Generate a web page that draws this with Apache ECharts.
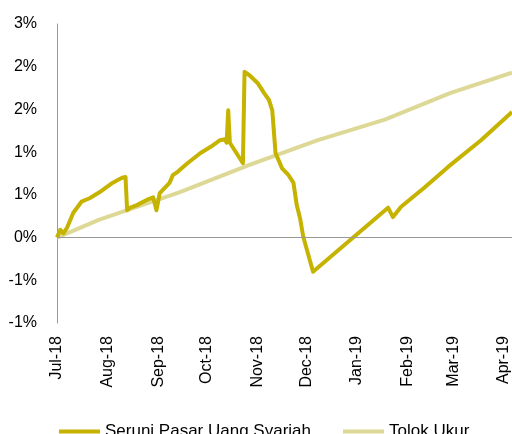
<!DOCTYPE html>
<html>
<head>
<meta charset="utf-8">
<script src="https://cdn.jsdelivr.net/npm/echarts@6/dist/echarts.min.js"></script>
<style>
  html, body { margin: 0; padding: 0; background: #fff; }
  #chart { width: 512px; height: 434px; }
</style>
</head>
<body>
<div id="chart"></div>
<script>
// nama seri
var seriesNames = ['Seruni Pasar Uang Syariah', 'Tolok Ukur'];

// Seruni Pasar Uang Syariah (tanggal, imbal hasil %)
var seruniDates = [
  '2018-07-01', '2018-07-03', '2018-07-05', '2018-07-07', '2018-07-11', '2018-07-16',
  '2018-07-21', '2018-07-27', '2018-08-04', '2018-08-07', '2018-08-10', '2018-08-12',
  '2018-08-13', '2018-08-15', '2018-08-19', '2018-08-25', '2018-08-29', '2018-08-31',
  '2018-09-02', '2018-09-08', '2018-09-10', '2018-09-13', '2018-09-19', '2018-09-27',
  '2018-10-03', '2018-10-09', '2018-10-12', '2018-10-13', '2018-10-14', '2018-10-15',
  '2018-10-23', '2018-10-24', '2018-10-27', '2018-11-01', '2018-11-05', '2018-11-08',
  '2018-11-10', '2018-11-12', '2018-11-16', '2018-11-20', '2018-11-23', '2018-11-25',
  '2018-11-27', '2018-11-29', '2018-12-05', '2019-01-20', '2019-01-23', '2019-01-28',
  '2019-02-11', '2019-02-26', '2019-03-18', '2019-04-06'
];
var seruniValues = [
  0.00, 0.09, 0.05, 0.11, 0.29, 0.42,
  0.46, 0.53, 0.64, 0.67, 0.70, 0.71,
  0.32, 0.35, 0.38, 0.44, 0.47, 0.32,
  0.52, 0.64, 0.73, 0.77, 0.87, 0.99,
  1.06, 1.14, 1.15, 1.11, 1.49, 1.11,
  0.87, 1.94, 1.90, 1.81, 1.69, 1.61,
  1.49, 0.99, 0.81, 0.73, 0.64, 0.38,
  0.23, 0.01, -0.40, 0.35, 0.24, 0.36,
  0.58, 0.83, 1.14, 1.47
];

// Tolok Ukur
var benchDates = [
  '2018-07-01', '2018-07-27', '2018-09-14', '2018-10-27', '2018-12-08',
  '2019-01-18', '2019-02-27', '2019-04-06'
];
var benchValues = [0.00, 0.21, 0.53, 0.85, 1.14, 1.38, 1.69, 1.93];

// sumbu
var xMin = '2018-07-01';
var xMax = '2019-04-06';
var yMin = -1, yMax = 2.5, yStep = 0.5;
var monthNames = ['Jan', 'Feb', 'Mar', 'Apr', 'May', 'Jun', 'Jul', 'Aug', 'Sep', 'Oct', 'Nov', 'Dec'];

function pairs(dates, values) {
  var out = [];
  for (var i = 0; i < dates.length; i++) {
    out.push([dates[i], values[i]]);
  }
  return out;
}

var chart = echarts.init(document.getElementById('chart'));
var font = 'Liberation Sans';

var option = {
  animation: false,
  grid: { left: 57, right: 0, top: 24, bottom: 111 },
  legend: {
    data: seriesNames,
    left: 54,
    top: 418,
    icon: 'rect',
    itemWidth: 41,
    itemHeight: 4,
    itemGap: 32,
    textStyle: { fontFamily: font, fontSize: 17, color: '#000' }
  },
  xAxis: {
    type: 'time',
    min: xMin,
    max: xMax,
    maxInterval: 31 * 86400000,
    minInterval: 28 * 86400000,
    axisLine: { show: false },
    axisTick: { show: false },
    splitLine: { show: false },
    axisLabel: {
      rotate: 90,
      margin: 13,
      fontFamily: font,
      fontSize: 16,
      color: '#000',
      hideOverlap: false,
      formatter: function (val) {
        var d = new Date(val);
        if (d.getDate() !== 1) return '';
        var yy = String(d.getFullYear()).slice(2);
        return monthNames[d.getMonth()] + '-' + yy;
      }
    }
  },
  yAxis: {
    type: 'value',
    min: yMin,
    max: yMax,
    interval: yStep,
    axisLine: { show: true, lineStyle: { color: '#999', width: 1 } },
    axisTick: { show: false },
    splitLine: { show: false },
    axisLabel: {
      margin: 20,
      fontFamily: font,
      fontSize: 16,
      color: '#000',
      formatter: function (v) {
        var r = Math.round(Math.abs(v));
        return (v < 0 ? '-' : '') + r + '%';
      }
    }
  },
  series: [
    {
      name: seriesNames[0],
      type: 'line',
      data: pairs(seruniDates, seruniValues),
      showSymbol: false,
      symbol: 'none',
      z: 3,
      lineStyle: { color: '#C5B300', width: 4, join: 'round' },
      itemStyle: { color: '#C5B300' }
    },
    {
      name: seriesNames[1],
      type: 'line',
      data: pairs(benchDates, benchValues),
      showSymbol: false,
      symbol: 'none',
      z: 2,
      lineStyle: { color: '#DDD896', width: 4 },
      itemStyle: { color: '#DDD896' },
      markLine: {
        silent: true,
        symbol: 'none',
        label: { show: false },
        lineStyle: { color: '#999', type: 'solid', width: 1 },
        data: [{ yAxis: 0 }]
      }
    }
  ]
};

chart.setOption(option);
</script>
</body>
</html>
